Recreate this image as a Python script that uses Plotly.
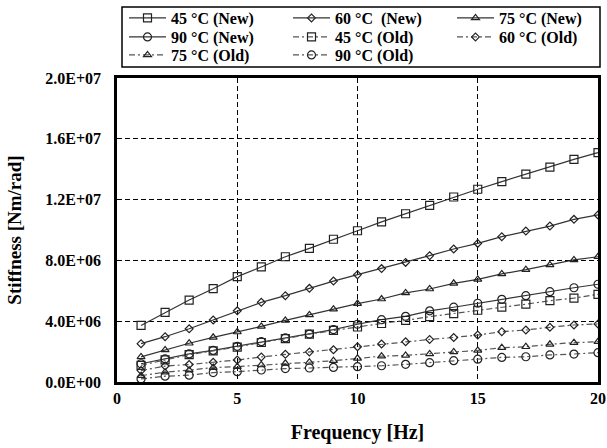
import plotly.graph_objects as go

freq = list(range(1, 21))

new45 = [3.72, 4.58, 5.39, 6.14, 6.93, 7.57, 8.24, 8.79, 9.39, 9.95, 10.53, 11.07, 11.62, 12.17, 12.68, 13.18, 13.68, 14.14, 14.65, 15.09]
new60 = [2.52, 2.98, 3.50, 4.08, 4.68, 5.24, 5.68, 6.16, 6.64, 7.06, 7.46, 7.87, 8.31, 8.75, 9.12, 9.56, 9.93, 10.26, 10.70, 10.99]
new75 = [1.65, 2.11, 2.55, 2.94, 3.29, 3.66, 4.05, 4.41, 4.79, 5.16, 5.46, 5.86, 6.12, 6.49, 6.75, 7.11, 7.39, 7.70, 8.03, 8.24]
new90 = [1.20, 1.52, 1.85, 2.08, 2.35, 2.65, 2.90, 3.15, 3.45, 3.80, 4.10, 4.32, 4.68, 4.92, 5.18, 5.44, 5.68, 5.94, 6.20, 6.43]
old45 = [1.10, 1.45, 1.80, 2.05, 2.30, 2.60, 2.85, 3.15, 3.40, 3.62, 3.85, 4.05, 4.30, 4.50, 4.72, 4.92, 5.12, 5.35, 5.52, 5.77]
old60 = [0.75, 1.05, 1.15, 1.30, 1.45, 1.65, 1.82, 1.98, 2.12, 2.32, 2.50, 2.65, 2.80, 2.93, 3.09, 3.31, 3.42, 3.60, 3.75, 3.82]
old75 = [0.42, 0.65, 0.78, 0.95, 1.01, 1.12, 1.23, 1.30, 1.40, 1.56, 1.70, 1.75, 1.85, 1.98, 2.08, 2.26, 2.32, 2.48, 2.59, 2.65]
old90 = [0.20, 0.38, 0.45, 0.62, 0.68, 0.79, 0.88, 0.92, 0.96, 1.01, 1.07, 1.16, 1.27, 1.40, 1.50, 1.62, 1.66, 1.78, 1.84, 1.93]

scale = 1e6
ytick_vals = [0, 4e6, 8e6, 1.2e7, 1.6e7, 2.0e7]
ytick_text = ["0.0E+00", "4.0E+06", "8.0E+06", "1.2E+07", "1.6E+07", "2.0E+07"]
xtick_vals = [0, 5, 10, 15, 20]

# (name, values, marker symbol, size, dash, legend column, legend row)
series = [
    ("45 °C (New)", new45, "square-open", 8, "solid", 0, 0),
    ("60 °C\u00a0 (New)", new60, "diamond-open", 6, "solid", 1, 0),
    ("75 °C (New)", new75, "triangle-up-open", 7, "solid", 2, 0),
    ("90 °C (New)", new90, "circle-open", 8, "solid", 0, 1),
    ("45 °C (Old)", old45, "square-open", 8, "dashdot", 1, 1),
    ("60 °C (Old)", old60, "diamond-open", 6, "dashdot", 2, 1),
    ("75 °C (Old)", old75, "triangle-up-open", 7, "dashdot", 0, 2),
    ("90 °C (Old)", old90, "circle-open", 8, "dashdot", 1, 2),
]

font_family = "Liberation Serif"
W, H = 607, 448
ML, MR, MT, MB = 117, 9, 78, 66
pw, ph = W - ML - MR, H - MT - MB

def px_x(p):
    return (p - ML) / pw

def px_y(p):
    return 1 + (MT - p) / ph

col_left = [124, 288, 452]
row_center = [18, 37, 55]

fig = go.Figure()
legends = {}
for i, (name, vals, sym, sz, dash, col, row) in enumerate(series):
    solid = dash == "solid"
    lc = "#333333" if solid else "#555555"
    lg = "legend" if i == 0 else "legend%d" % (i + 1)
    fig.add_trace(go.Scatter(
        x=freq, y=[v * scale for v in vals], name=name, mode="lines+markers",
        line=dict(color=lc, width=1.2, dash="solid" if solid else "6px,3px,2px,3px"), legend=lg,
        marker=dict(symbol=sym, size=sz, color="#222222", line=dict(width=1.2, color="#222222")),
    ))
    legends[lg] = dict(
        orientation="v", xanchor="left", yanchor="top", xref="paper", yref="paper",
        x=px_x(col_left[col]), y=px_y(row_center[row] - 17),
        bgcolor="rgba(0,0,0,0)", borderwidth=0,
        font=dict(family=font_family, size=16, color="black", weight="bold"),
        itemwidth=37,
    )

fig.update_layout(
    width=W, height=H,
    margin=dict(l=ML, r=MR, t=MT, b=MB, autoexpand=False),
    paper_bgcolor="white", plot_bgcolor="white",
    font=dict(family=font_family, color="black"),
    showlegend=True,
    shapes=[dict(type="rect", xref="paper", yref="paper",
                 x0=px_x(122), x1=px_x(600), y0=px_y(67), y1=px_y(7),
                 line=dict(color="black", width=1.5), fillcolor="rgba(0,0,0,0)", layer="above")],
    xaxis=dict(
        range=[0, 20], tickvals=xtick_vals, ticks="",
        showgrid=True, gridcolor="black", griddash="5px,3px", gridwidth=1,
        showline=True, linecolor="black", linewidth=2.5, mirror=True,
        zeroline=False,
        tickfont=dict(family=font_family, size=16, color="black", weight="bold"),
        title=dict(text="<b>Frequency [Hz]</b>", font=dict(family=font_family, size=20), standoff=20),
    ),
    yaxis=dict(
        range=[0, 2.0e7], tickvals=ytick_vals, ticktext=ytick_text, ticks="",
        showgrid=True, gridcolor="black", griddash="5px,3px", gridwidth=1,
        showline=True, linecolor="black", linewidth=2.5, mirror=True,
        zeroline=False, ticklabelstandoff=10,
        tickfont=dict(family=font_family, size=16, color="black", weight="bold"),
        title=dict(text="<b>Stiffness [Nm/rad]</b>", font=dict(family=font_family, size=19), standoff=19),
    ),
)
fig.update_layout(**legends)

fig.write_html("out.html", config={"displayModeBar": False},
               post_script="document.body.style.margin='0';document.body.style.overflow='hidden';")
